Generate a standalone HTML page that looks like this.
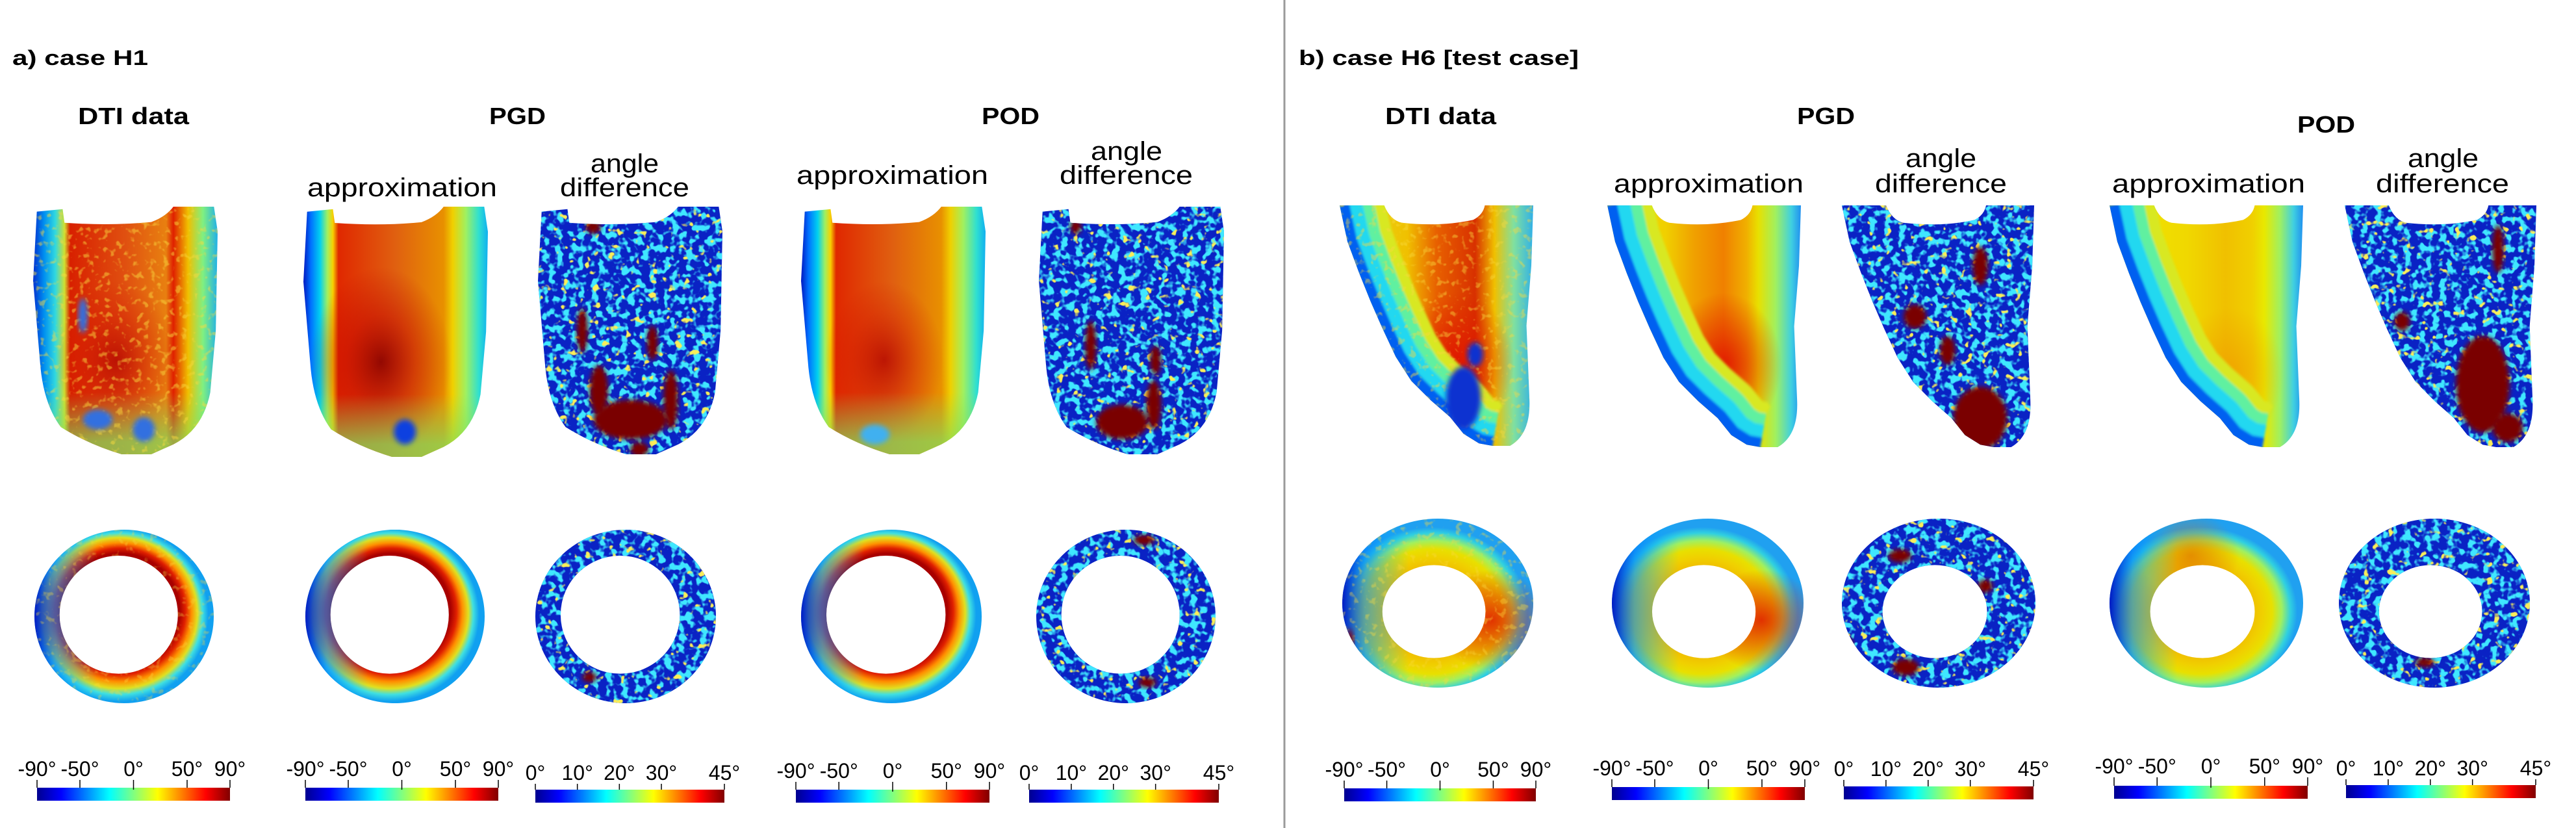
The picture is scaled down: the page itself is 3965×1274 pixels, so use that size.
<!DOCTYPE html>
<html><head><meta charset="utf-8"><style>
html,body{margin:0;padding:0;background:#fff;}
svg{display:block;}
text{font-family:"Liberation Sans",sans-serif;fill:#000;}
</style></head><body>
<svg id="fig" width="3965" height="1274" viewBox="0 0 3965 1274" xmlns="http://www.w3.org/2000/svg">
<defs>
<linearGradient id="jet" x1="0" x2="1" y1="0" y2="0">
<stop offset="0" stop-color="#00008f"/><stop offset="0.125" stop-color="#0000ff"/><stop offset="0.375" stop-color="#00ffff"/><stop offset="0.5" stop-color="#80ff80"/><stop offset="0.625" stop-color="#ffff00"/><stop offset="0.875" stop-color="#ff0000"/><stop offset="1" stop-color="#800000"/>
</linearGradient>
<linearGradient id="gApproxL" x1="0" x2="1" y1="0" y2="0">
<stop offset="0" stop-color="#0018c0"/><stop offset="0.04" stop-color="#0070ff"/><stop offset="0.09" stop-color="#00d0f0"/><stop offset="0.13" stop-color="#a0f060"/><stop offset="0.16" stop-color="#f8d000"/><stop offset="0.19" stop-color="#e02800"/><stop offset="0.5" stop-color="#e06010"/><stop offset="0.76" stop-color="#e89000"/><stop offset="0.81" stop-color="#f0d000"/><stop offset="0.88" stop-color="#a0f060"/><stop offset="0.95" stop-color="#30e0d0"/><stop offset="1" stop-color="#10b0f0"/>
</linearGradient>
<linearGradient id="gDtiL" x1="0" x2="1" y1="0" y2="0">
<stop offset="0" stop-color="#0030d0"/><stop offset="0.06" stop-color="#0090f0"/><stop offset="0.12" stop-color="#30d8e0"/><stop offset="0.17" stop-color="#d0e030"/><stop offset="0.2" stop-color="#d82000"/><stop offset="0.5" stop-color="#e05010"/><stop offset="0.72" stop-color="#e88010"/><stop offset="0.76" stop-color="#e02000"/><stop offset="0.84" stop-color="#f0c000"/><stop offset="0.92" stop-color="#80f080"/><stop offset="1" stop-color="#20b0e8"/>
</linearGradient>
<radialGradient id="gRedCore" cx="0.42" cy="0.62" r="0.38">
<stop offset="0" stop-color="#8a0000" stop-opacity="0.9"/><stop offset="0.5" stop-color="#c00000" stop-opacity="0.45"/><stop offset="1" stop-color="#c00000" stop-opacity="0"/>
</radialGradient>
<radialGradient id="gRedCore2" cx="0.45" cy="0.62" r="0.32">
<stop offset="0" stop-color="#b00000" stop-opacity="0.75"/><stop offset="0.6" stop-color="#d01000" stop-opacity="0.3"/><stop offset="1" stop-color="#d01000" stop-opacity="0"/>
</radialGradient>
<linearGradient id="gBottomL" x1="0" x2="0" y1="0" y2="1">
<stop offset="0.75" stop-color="#80e060" stop-opacity="0"/><stop offset="0.95" stop-color="#80e060" stop-opacity="0.7"/>
</linearGradient>
<linearGradient id="gApproxR" x1="0" x2="1" y1="0" y2="0">
<stop offset="0" stop-color="#f0e000"/><stop offset="0.3" stop-color="#f0d000"/><stop offset="0.45" stop-color="#f0a000"/><stop offset="0.6" stop-color="#f08000"/><stop offset="0.72" stop-color="#f0b000"/><stop offset="0.78" stop-color="#e8e000"/><stop offset="0.87" stop-color="#a0f060"/><stop offset="0.95" stop-color="#40d0e0"/><stop offset="1" stop-color="#2090f0"/>
</linearGradient>
<linearGradient id="gApproxR2" x1="0" x2="1" y1="0" y2="0">
<stop offset="0" stop-color="#f0e800"/><stop offset="0.4" stop-color="#f0d800"/><stop offset="0.6" stop-color="#f0c000"/><stop offset="0.74" stop-color="#f0d000"/><stop offset="0.8" stop-color="#e8e800"/><stop offset="0.88" stop-color="#a0f060"/><stop offset="0.95" stop-color="#40d0e0"/><stop offset="1" stop-color="#2090f0"/>
</linearGradient>
<linearGradient id="gDtiR" x1="0" x2="1" y1="0" y2="0">
<stop offset="0" stop-color="#e0e020"/><stop offset="0.35" stop-color="#f0c000"/><stop offset="0.5" stop-color="#e86000"/><stop offset="0.7" stop-color="#d83000"/><stop offset="0.8" stop-color="#f0c000"/><stop offset="0.9" stop-color="#80e0a0"/><stop offset="1" stop-color="#30b0e8"/>
</linearGradient>
<radialGradient id="gRedR" cx="0.6" cy="0.66" r="0.3">
<stop offset="0" stop-color="#e01000" stop-opacity="0.9"/><stop offset="1" stop-color="#e01000" stop-opacity="0"/>
</radialGradient>
<radialGradient id="gRedR2" cx="0.62" cy="0.7" r="0.28">
<stop offset="0" stop-color="#f09000" stop-opacity="0.6"/><stop offset="1" stop-color="#f09000" stop-opacity="0"/>
</radialGradient>
<radialGradient id="gRingL" cx="0.47" cy="0.49" r="0.5" fx="0.5" fy="0.42">
<stop offset="0" stop-color="#a00000"/><stop offset="0.66" stop-color="#a80000"/><stop offset="0.73" stop-color="#e02000"/><stop offset="0.8" stop-color="#ff9000"/><stop offset="0.87" stop-color="#e0e020"/><stop offset="0.93" stop-color="#40e0e0"/><stop offset="1" stop-color="#10a0f0"/>
</radialGradient>
<radialGradient id="gRingR" cx="0.47" cy="0.55" r="0.5">
<stop offset="0" stop-color="#f0c000"/><stop offset="0.54" stop-color="#f0c000"/><stop offset="0.64" stop-color="#f0d000"/><stop offset="0.74" stop-color="#e8e000"/><stop offset="0.84" stop-color="#a0f060"/><stop offset="0.93" stop-color="#30d0e0"/><stop offset="1" stop-color="#20a0f0"/>
</radialGradient>
<linearGradient id="gRingLeftBlue" x1="0" x2="1" y1="0" y2="0">
<stop offset="0" stop-color="#0010c0" stop-opacity="0.95"/><stop offset="0.12" stop-color="#0080ff" stop-opacity="0.6"/><stop offset="0.35" stop-color="#00c0ff" stop-opacity="0"/>
</linearGradient>
<radialGradient id="gRingRedRight" cx="0.78" cy="0.6" r="0.3">
<stop offset="0" stop-color="#e02000" stop-opacity="0.9"/><stop offset="1" stop-color="#e02000" stop-opacity="0"/>
</radialGradient>
<radialGradient id="gRingOrangeTop" cx="0.42" cy="0.22" r="0.25">
<stop offset="0" stop-color="#e07000" stop-opacity="0.7"/><stop offset="1" stop-color="#e07000" stop-opacity="0"/>
</radialGradient>
<filter id="speckCyan" x="0" y="0" width="1" height="1">
<feTurbulence type="fractalNoise" baseFrequency="0.09" numOctaves="2" seed="3"/>
<feColorMatrix type="matrix" values="0 0 0 0 0.05  0 0 0 0 0.8  0 0 0 0 1  7 0 0 0 -3.4"/>
</filter>
<filter id="speckYellow" x="0" y="0" width="1" height="1">
<feTurbulence type="fractalNoise" baseFrequency="0.08" numOctaves="2" seed="11"/>
<feColorMatrix type="matrix" values="0 0 0 0 0.95  0 0 0 0 0.85  0 0 0 0 0.1  10 0 0 0 -6.6"/>
</filter>
<filter id="speckWarm" x="0" y="0" width="1" height="1">
<feTurbulence type="fractalNoise" baseFrequency="0.1" numOctaves="2" seed="5"/>
<feColorMatrix type="matrix" values="0 0 0 0 0.95  0 0 0 0 0.7  0 0 0 0 0.05  6 0 0 0 -3.4"/>
</filter>
<filter id="soft" x="-0.2" y="-0.2" width="1.4" height="1.4"><feGaussianBlur stdDeviation="4"/></filter>
<filter id="blurWall" x="-0.3" y="-0.3" width="1.6" height="1.6"><feGaussianBlur stdDeviation="6"/></filter>
</defs>

<line x1="1977" y1="0" x2="1977" y2="1274" stroke="#9a9a9a" stroke-width="3"/>

<g>
<text x="19" y="100" font-size="32" font-weight="bold" textLength="209" lengthAdjust="spacingAndGlyphs">a) case H1</text>
<text x="120" y="191" font-size="36" font-weight="bold" textLength="171" lengthAdjust="spacingAndGlyphs">DTI data</text>
<text x="753" y="191" font-size="36" font-weight="bold" textLength="87" lengthAdjust="spacingAndGlyphs">PGD</text>
<text x="1511" y="191" font-size="36" font-weight="bold" textLength="89" lengthAdjust="spacingAndGlyphs">POD</text>
<text x="473" y="302" font-size="40" textLength="292" lengthAdjust="spacingAndGlyphs">approximation</text>
<text x="909" y="265" font-size="40" textLength="105" lengthAdjust="spacingAndGlyphs">angle</text>
<text x="862" y="302" font-size="40" textLength="199" lengthAdjust="spacingAndGlyphs">difference</text>
<text x="1226" y="283" font-size="40" textLength="295" lengthAdjust="spacingAndGlyphs">approximation</text>
<text x="1679" y="246" font-size="40" textLength="110" lengthAdjust="spacingAndGlyphs">angle</text>
<text x="1631" y="283" font-size="40" textLength="205" lengthAdjust="spacingAndGlyphs">difference</text>
</g>
<g>
<text x="1999" y="100" font-size="32" font-weight="bold" textLength="431" lengthAdjust="spacingAndGlyphs">b) case H6 [test case]</text>
<text x="2132" y="191" font-size="36" font-weight="bold" textLength="171" lengthAdjust="spacingAndGlyphs">DTI data</text>
<text x="2766" y="191" font-size="36" font-weight="bold" textLength="89" lengthAdjust="spacingAndGlyphs">PGD</text>
<text x="3536" y="204" font-size="36" font-weight="bold" textLength="89" lengthAdjust="spacingAndGlyphs">POD</text>
<text x="2484" y="296" font-size="40" textLength="292" lengthAdjust="spacingAndGlyphs">approximation</text>
<text x="2933" y="257" font-size="40" textLength="109" lengthAdjust="spacingAndGlyphs">angle</text>
<text x="2886" y="296" font-size="40" textLength="203" lengthAdjust="spacingAndGlyphs">difference</text>
<text x="3251" y="296" font-size="40" textLength="297" lengthAdjust="spacingAndGlyphs">approximation</text>
<text x="3706" y="257" font-size="40" textLength="109" lengthAdjust="spacingAndGlyphs">angle</text>
<text x="3657" y="296" font-size="40" textLength="205" lengthAdjust="spacingAndGlyphs">difference</text>
</g>
<g id="maps"></g>
<g id="bars"></g>
</svg>
<script>
// colorbar data
const angleTicks = [-90, -50, 0, 50, 90];
const angleDomain = [-90, 90];
const diffTicks = [0, 10, 20, 30, 45];
const diffDomain = [0, 45];

const NS = 'http://www.w3.org/2000/svg';
const svg = document.getElementById('fig');
const defs = svg.querySelector('defs');
const maps = document.getElementById('maps');
const bars = document.getElementById('bars');
function mk(tag, attrs, parent) {
  const e = document.createElementNS(NS, tag);
  for (const k in attrs) e.setAttribute(k, attrs[k]);
  if (parent) parent.appendChild(e);
  return e;
}

const LAX_L = "M20,20 L160,10 L170,65 Q420,78 640,62 Q720,40 760,0 L980,0 L1000,100 L990,500 L960,750 Q920,900 760,960 L640,1000 L480,1000 Q300,960 150,890 Q60,800 40,650 L0,300 Z";
const LE = [[0,0],[40,150],[100,280],[160,400],[220,510],[290,630],[370,730],[470,810],[570,880],[640,950],[720,990],[790,1000]];
const LEFT_EDGE_R = 'M' + LE.map(p => p.join(',')).join(' L');
const LAX_R = "M230,0 Q260,60 320,72 Q520,90 690,60 Q740,40 750,0 L1000,0 L990,250 L965,500 L980,800 Q990,950 880,1000 L" +
  LE.slice().reverse().map(p => p.join(',')).join(' L') + " Z";

let cid = 0;
function clipFor(d, box) {
  const id = 'clip' + (cid++);
  const cp = mk('clipPath', {id: id, clipPathUnits: 'userSpaceOnUse'}, defs);
  mk('path', {d: d, transform: `translate(${box[0]},${box[1]}) scale(${box[2]/1000},${box[3]/1000})`}, cp);
  return id;
}
function clipFor0(d) {
  const id = 'clip' + (cid++);
  const cp = mk('clipPath', {id: id, clipPathUnits: 'userSpaceOnUse'}, defs);
  mk('path', {d: d, 'clip-rule': 'evenodd'}, cp);
  return id;
}
function ringPath(box, hx, hy, hrx, hry) {
  const [x, y, w, h] = box;
  const cx = x + w/2, cy = y + h/2, rx = w/2, ry = h/2;
  const ix = x + hx*w, iy = y + hy*h, irx = hrx*w, iry = hry*h;
  return `M${cx-rx},${cy} a${rx},${ry} 0 1,0 ${2*rx},0 a${rx},${ry} 0 1,0 ${-2*rx},0 Z M${ix-irx},${iy} a${irx},${iry} 0 1,0 ${2*irx},0 a${irx},${iry} 0 1,0 ${-2*irx},0 Z`;
}
function rect(g, box, fill, extra) {
  const a = {x: box[0], y: box[1], width: box[2], height: box[3], fill: fill};
  for (const k in (extra||{})) a[k] = extra[k];
  return mk('rect', a, g);
}
function blobs(g, box, list, color) {
  list.forEach(b => {
    const e = mk('ellipse', {cx: box[0]+b[0]*box[2], cy: box[1]+b[1]*box[3], rx: b[2]*box[2], ry: b[3]*box[3], fill: color, filter: 'url(#soft)'}, g);
    
    
  });
}
function panel(name, box, clipId) {
  const g = mk('g', {'clip-path': `url(#${clipId})`}, maps);
  
  
  return g;
}
function diffFill(g, box, red) {
  rect(g, box, '#0a22c4');
  rect(g, box, '#000', {filter: 'url(#speckCyan)'});
  rect(g, box, '#000', {filter: 'url(#speckYellow)'});
  blobs(g, box, red, '#7a0000');
}

// ---- Panel a: long-axis ----
const laxA = {
  dti: [51, 318, 284, 381], pgd: [467, 318, 284, 385], pgdd: [828, 318, 284, 381],
  pod: [1233, 318, 284, 381], podd: [1599, 318, 285, 381]
};
(function(){
  let b = laxA.dti, g = panel('dti-long-axis-a', b, clipFor(LAX_L, b));
  rect(g, b, 'url(#gDtiL)'); rect(g, b, 'url(#gRedCore2)'); rect(g, b, 'url(#gBottomL)');
  rect(g, b, '#000', {filter: 'url(#speckWarm)', opacity: 0.5});
  blobs(g, b, [[0.27,0.44,0.025,0.07],[0.35,0.86,0.08,0.04],[0.6,0.9,0.06,0.05]], '#3070e0');
  b = laxA.pgd; g = panel('pgd-approximation-long-axis-a', b, clipFor(LAX_L, b));
  rect(g, b, 'url(#gApproxL)'); rect(g, b, 'url(#gRedCore)'); rect(g, b, 'url(#gBottomL)');
  blobs(g, b, [[0.55,0.9,0.06,0.05]], '#1040e0');
  b = laxA.pgdd; g = panel('pgd-angle-difference-long-axis-a', b, clipFor(LAX_L, b));
  diffFill(g, b, [[0.5,0.86,0.2,0.08],[0.33,0.74,0.05,0.1],[0.72,0.78,0.04,0.12],[0.24,0.5,0.03,0.09],[0.62,0.55,0.03,0.07],[0.55,0.98,0.05,0.03],[0.3,0.08,0.04,0.03]]);
  b = laxA.pod; g = panel('pod-approximation-long-axis-a', b, clipFor(LAX_L, b));
  rect(g, b, 'url(#gApproxL)'); rect(g, b, 'url(#gRedCore2)'); rect(g, b, 'url(#gBottomL)');
  blobs(g, b, [[0.4,0.92,0.08,0.04]], '#40b0f0');
  b = laxA.podd; g = panel('pod-angle-difference-long-axis-a', b, clipFor(LAX_L, b));
  diffFill(g, b, [[0.45,0.87,0.14,0.07],[0.28,0.56,0.03,0.1],[0.63,0.62,0.03,0.06],[0.62,0.8,0.04,0.1],[0.2,0.08,0.03,0.03]]);
})();

// ---- Panel b: long-axis ----
const laxB = {
  dti: [2062, 316, 298, 370], pgd: [2474, 316, 298, 372], pgdd: [2835, 316, 296, 372],
  pod: [3247, 316, 298, 372], podd: [3609, 316, 295, 372]
};
function leftWall(g, b) {
  const w = mk('g', {filter: 'url(#blurWall)', transform: `translate(${b[0]},${b[1]}) scale(${b[2]/1000},${b[3]/1000})`}, g);
  [[140,'#d8e820'],[105,'#60f0a0'],[70,'#20d8f0'],[30,'#0060f0']].forEach(s => {
    mk('path', {d: LEFT_EDGE_R, fill: 'none', stroke: s[1], 'stroke-width': s[0], 'vector-effect': 'non-scaling-stroke', 'stroke-linejoin': 'round'}, w);
  });
}
(function(){
  let b = laxB.dti, g = panel('dti-long-axis-b', b, clipFor(LAX_R, b));
  rect(g, b, 'url(#gDtiR)'); rect(g, b, 'url(#gRedR)');
  leftWall(g, b);
  rect(g, b, '#000', {filter: 'url(#speckWarm)', opacity: 0.45});
  blobs(g, b, [[0.64,0.8,0.09,0.13],[0.7,0.62,0.04,0.05]], '#1030d0');
  b = laxB.pgd; g = panel('pgd-approximation-long-axis-b', b, clipFor(LAX_R, b));
  rect(g, b, 'url(#gApproxR)'); rect(g, b, 'url(#gRedR)');
  leftWall(g, b);
  b = laxB.pgdd; g = panel('pgd-angle-difference-long-axis-b', b, clipFor(LAX_R, b));
  diffFill(g, b, [[0.72,0.88,0.14,0.13],[0.38,0.46,0.06,0.05],[0.72,0.25,0.04,0.08],[0.55,0.6,0.04,0.06]]);
  b = laxB.pod; g = panel('pod-approximation-long-axis-b', b, clipFor(LAX_R, b));
  rect(g, b, 'url(#gApproxR2)'); rect(g, b, 'url(#gRedR2)');
  leftWall(g, b);
  b = laxB.podd; g = panel('pod-angle-difference-long-axis-b', b, clipFor(LAX_R, b));
  diffFill(g, b, [[0.72,0.74,0.14,0.2],[0.8,0.18,0.03,0.1],[0.3,0.48,0.04,0.04],[0.85,0.92,0.08,0.06]]);
})();

// ---- Rings ----
const ringA = {
  dti: [53, 815, 276, 267], pgd: [470, 815, 276, 267], pgdd: [824, 815, 278, 267],
  pod: [1233, 815, 278, 267], podd: [1595, 815, 276, 267]
};
const ringB = {
  dti: [2066, 798, 294, 260], pgd: [2481, 798, 295, 260], pgdd: [2835, 798, 298, 260],
  pod: [3247, 798, 298, 260], podd: [3600, 798, 294, 260]
};
function ringClipA(b) { return clipFor0(ringPath(b, 0.47, 0.49, 0.33, 0.34)); }
function ringClipB(b) { return clipFor0(ringPath(b, 0.48, 0.55, 0.27, 0.275)); }
(function(){
  let b = ringA.dti, g = panel('dti-short-axis-a', b, ringClipA(b));
  rect(g, b, 'url(#gRingL)'); rect(g, b, 'url(#gRingLeftBlue)');
  rect(g, b, '#000', {filter: 'url(#speckWarm)', opacity: 0.35});
  b = ringA.pgd; g = panel('pgd-approximation-short-axis-a', b, ringClipA(b));
  rect(g, b, 'url(#gRingL)'); rect(g, b, 'url(#gRingLeftBlue)');
  b = ringA.pgdd; g = panel('pgd-angle-difference-short-axis-a', b, ringClipA(b));
  diffFill(g, b, [[0.3,0.85,0.04,0.03]]);
  b = ringA.pod; g = panel('pod-approximation-short-axis-a', b, ringClipA(b));
  rect(g, b, 'url(#gRingL)'); rect(g, b, 'url(#gRingLeftBlue)');
  b = ringA.podd; g = panel('pod-angle-difference-short-axis-a', b, ringClipA(b));
  diffFill(g, b, [[0.6,0.06,0.06,0.03],[0.62,0.88,0.05,0.03]]);

  b = ringB.dti; g = panel('dti-short-axis-b', b, ringClipB(b));
  rect(g, b, 'url(#gRingR)'); rect(g, b, 'url(#gRingRedRight)'); rect(g, b, 'url(#gRingLeftBlue)');
  rect(g, b, '#000', {filter: 'url(#speckWarm)', opacity: 0.4});
  blobs(g, b, [[0.04,0.8,0.02,0.15]], '#900000');
  b = ringB.pgd; g = panel('pgd-approximation-short-axis-b', b, ringClipB(b));
  rect(g, b, 'url(#gRingR)'); rect(g, b, 'url(#gRingRedRight)'); rect(g, b, 'url(#gRingLeftBlue)');
  b = ringB.pgdd; g = panel('pgd-angle-difference-short-axis-b', b, ringClipB(b));
  diffFill(g, b, [[0.3,0.22,0.06,0.04],[0.74,0.4,0.04,0.04],[0.33,0.88,0.07,0.05],[0.04,0.8,0.02,0.1]]);
  b = ringB.pod; g = panel('pod-approximation-short-axis-b', b, ringClipB(b));
  rect(g, b, 'url(#gRingR)'); rect(g, b, 'url(#gRingOrangeTop)'); rect(g, b, 'url(#gRingLeftBlue)');
  b = ringB.podd; g = panel('pod-angle-difference-short-axis-b', b, ringClipB(b));
  diffFill(g, b, [[0.05,0.85,0.03,0.1],[0.45,0.85,0.05,0.03]]);
})();

// ---- Colorbars ----
const barSpecs = [
  {name: 'dti-colorbar-a', x0: 57, x1: 354, y: 1212, lab: 1194, ticks: angleTicks, dom: angleDomain},
  {name: 'pgd-approximation-colorbar-a', x0: 470, x1: 767, y: 1212, lab: 1194, ticks: angleTicks, dom: angleDomain},
  {name: 'pgd-difference-colorbar-a', x0: 824, x1: 1115, y: 1215, lab: 1200, ticks: diffTicks, dom: diffDomain},
  {name: 'pod-approximation-colorbar-a', x0: 1225, x1: 1523, y: 1215, lab: 1197, ticks: angleTicks, dom: angleDomain},
  {name: 'pod-difference-colorbar-a', x0: 1584, x1: 1876, y: 1215, lab: 1200, ticks: diffTicks, dom: diffDomain},
  {name: 'dti-colorbar-b', x0: 2069, x1: 2364, y: 1213, lab: 1195, ticks: angleTicks, dom: angleDomain},
  {name: 'pgd-approximation-colorbar-b', x0: 2481, x1: 2778, y: 1211, lab: 1193, ticks: angleTicks, dom: angleDomain},
  {name: 'pgd-difference-colorbar-b', x0: 2838, x1: 3130, y: 1210, lab: 1194, ticks: diffTicks, dom: diffDomain},
  {name: 'pod-approximation-colorbar-b', x0: 3254, x1: 3552, y: 1209, lab: 1190, ticks: angleTicks, dom: angleDomain},
  {name: 'pod-difference-colorbar-b', x0: 3611, x1: 3903, y: 1208, lab: 1193, ticks: diffTicks, dom: diffDomain}
];
barSpecs.forEach(s => {
  const g = mk('g', {}, bars);
  
  
  const r = mk('rect', {x: s.x0, y: s.y, width: s.x1 - s.x0, height: 20, fill: 'url(#jet)'}, g);
  
  
  const sx = v => s.x0 + (v - s.dom[0]) / (s.dom[1] - s.dom[0]) * (s.x1 - s.x0);
  s.ticks.forEach(v => {
    const x = sx(v);
    const t = mk('line', {x1: x, x2: x, y1: s.lab + 6, y2: s.y + (v === 0 && s.dom[0] < 0 ? 3 : 0), stroke: '#000', 'stroke-width': 1.5}, g);
    
    
    const tx = mk('text', {x: x, y: s.lab, 'font-size': 32, 'text-anchor': 'middle'}, g);
    tx.textContent = v + '°';
    
    
  });
});
</script>
</body></html>
